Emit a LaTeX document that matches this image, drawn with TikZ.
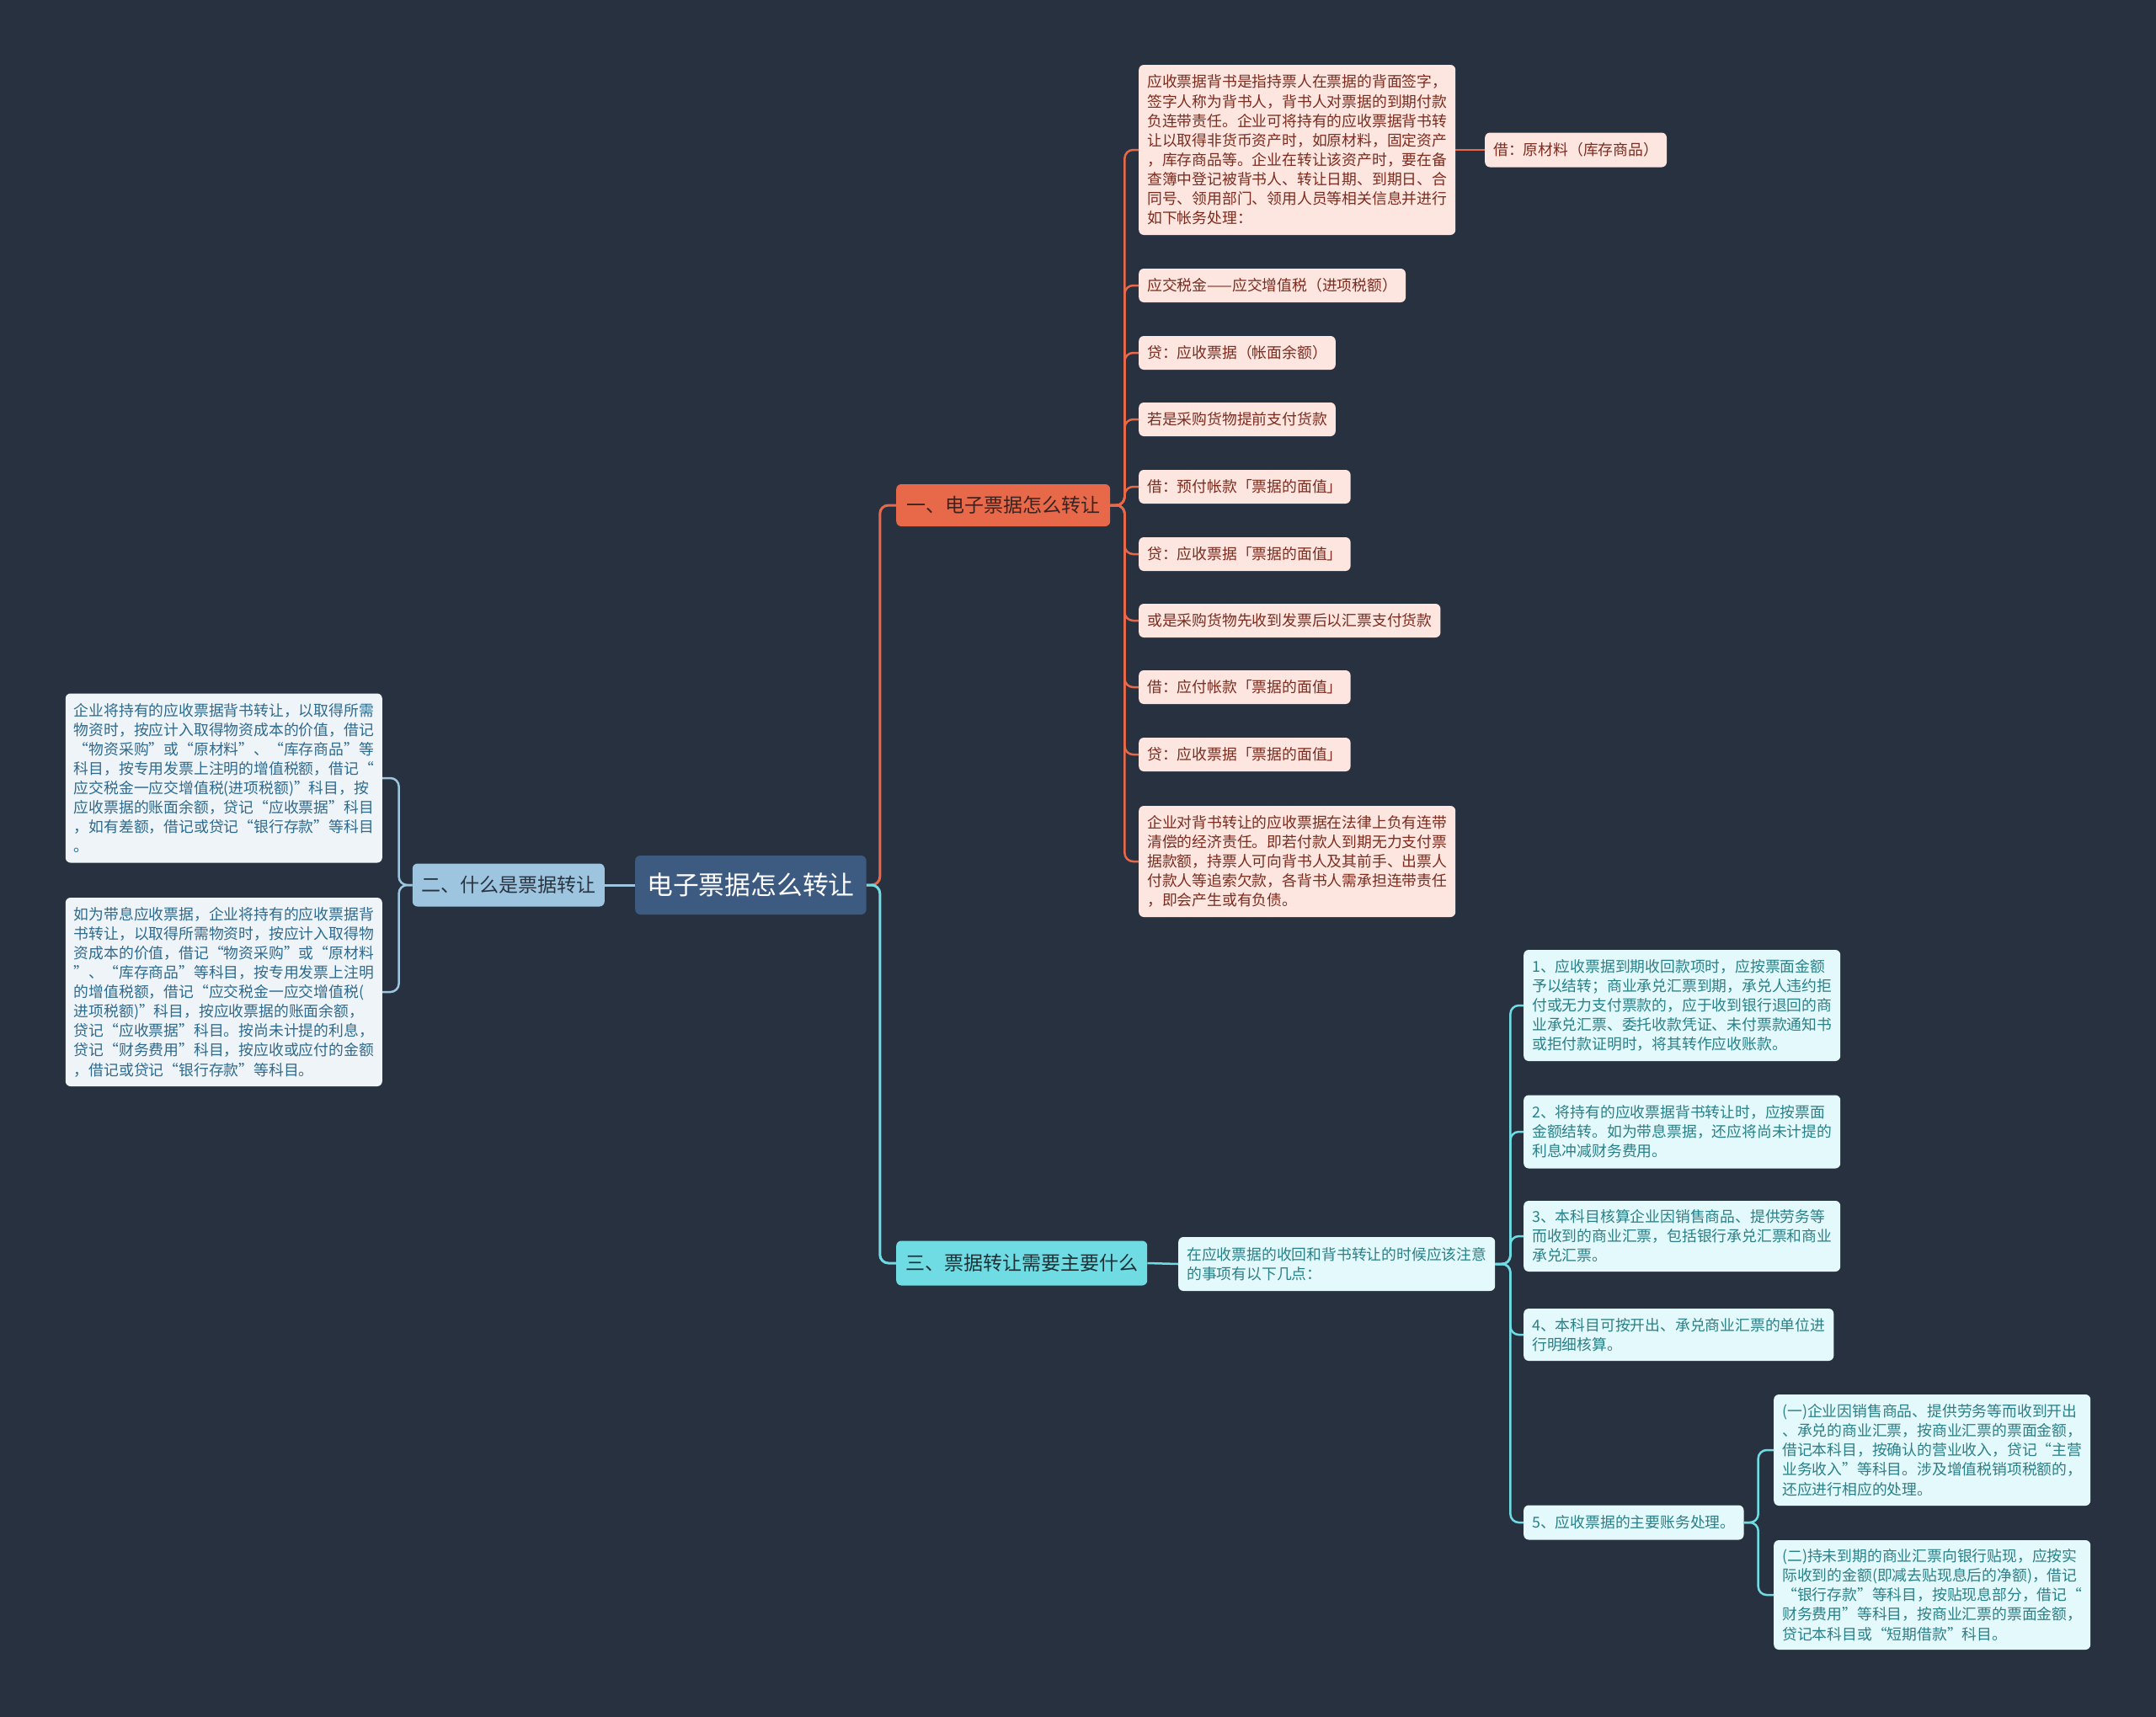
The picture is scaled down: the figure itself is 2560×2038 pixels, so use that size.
\documentclass[tikz,border=0pt]{standalone}
\usepackage{fontspec}
\newfontfamily\cjk{Noto Sans CJK SC}
\definecolor{bg}{HTML}{283140}
\definecolor{rootfill}{HTML}{3D5A80}
\definecolor{ofill}{HTML}{E8694A}
\definecolor{otext}{HTML}{3B2320}
\definecolor{pfill}{HTML}{FDE5E0}
\definecolor{ptext}{HTML}{7B2C1E}
\definecolor{bfill}{HTML}{9EC5DF}
\definecolor{btext}{HTML}{2A3440}
\definecolor{lbfill}{HTML}{EEF4F8}
\definecolor{lbtext}{HTML}{2E6A8E}
\definecolor{cfill}{HTML}{6FDBE3}
\definecolor{ctext}{HTML}{1C3236}
\definecolor{lcfill}{HTML}{E3F9FB}
\definecolor{lctext}{HTML}{2A8088}
\begin{document}
\begin{tikzpicture}[x=1pt,y=-1pt,
  box/.style={rounded corners=6pt, inner ysep=0pt, inner xsep=10pt, align=left, anchor=west},
  leaffont/.style={font=\cjk\fontsize{17.8}{23.1}\selectfont},
  pleaf/.style={box, leaffont, fill=pfill, text=ptext},
  bleaf/.style={box, leaffont, fill=lbfill, text=lbtext},
  cleaf/.style={box, leaffont, fill=lcfill, text=lctext},
  branchfont/.style={font=\cjk\fontsize{23}{28}\selectfont},
  obranch/.style={box, branchfont, fill=ofill, text=otext, inner xsep=12pt, minimum height=50},
  bbranch/.style={box, branchfont, fill=bfill, text=btext, inner xsep=10.5pt, minimum height=51},
  cbranch/.style={box, branchfont, fill=cfill, text=ctext, inner xsep=11pt, minimum height=53},
  rootbox/.style={box, font=\cjk\fontsize{30.8}{36}\selectfont, fill=rootfill, text=white, inner xsep=14pt, minimum height=70},
  oline/.style={draw=ofill, line width=2.5pt, rounded corners=10pt},
  bline/.style={draw=bfill, line width=2.5pt, rounded corners=10pt},
  cline/.style={draw=cfill, line width=2.5pt, rounded corners=10pt},
]
\useasboundingbox (0,0) rectangle (2560,2038);
\fill[bg] (-6,-6) rectangle (2566,2044);

% root and branches
\node[rootbox] (root) at (754,1051) {电子票据怎么转让};
\node[obranch] (b1) at (1064,600) {一、电子票据怎么转让};
\node[bbranch, anchor=east] (b2) at (718,1051) {二、什么是票据转让};
\node[cbranch] (b3) at (1064,1500) {三、票据转让需要主要什么};

% branch 1 leaves
\node[pleaf, minimum height=202] (r1) at (1352,178) {应收票据背书是指持票人在票据的背面签字，\\签字人称为背书人，背书人对票据的到期付款\\负连带责任。企业可将持有的应收票据背书转\\让以取得非货币资产时，如原材料，固定资产\\，库存商品等。企业在转让该资产时，要在备\\查簿中登记被背书人、转让日期、到期日、合\\同号、领用部门、领用人员等相关信息并进行\\如下帐务处理：};
\node[pleaf, minimum height=41] (r1a) at (1763,178) {借：原材料（库存商品）};
\node[pleaf, minimum height=40] (r2) at (1352,339) {应交税金——应交增值税（进项税额）};
\node[pleaf, minimum height=40] (r3) at (1352,419) {贷：应收票据（帐面余额）};
\node[pleaf, minimum height=40] (r4) at (1352,498) {若是采购货物提前支付货款};
\node[pleaf, minimum height=40] (r5) at (1352,578) {借：预付帐款「票据的面值」};
\node[pleaf, minimum height=40] (r6) at (1352,658) {贷：应收票据「票据的面值」};
\node[pleaf, minimum height=40] (r7) at (1352,737) {或是采购货物先收到发票后以汇票支付货款};
\node[pleaf, minimum height=40] (r8) at (1352,816) {借：应付帐款「票据的面值」};
\node[pleaf, minimum height=40] (r9) at (1352,896) {贷：应收票据「票据的面值」};
\node[pleaf, minimum height=132] (r10) at (1352,1023) {企业对背书转让的应收票据在法律上负有连带\\清偿的经济责任。即若付款人到期无力支付票\\据款额，持票人可向背书人及其前手、出票人\\付款人等追索欠款，各背书人需承担连带责任\\，即会产生或有负债。};

% branch 2 leaves
\node[bleaf, anchor=east, minimum height=201] (l1) at (454,924) {企业将持有的应收票据背书转让，以取得所需\\物资时，按应计入取得物资成本的价值，借记\\“物资采购”或“原材料”、“库存商品”等\\科目，按专用发票上注明的增值税额，借记“\\应交税金一应交增值税(进项税额)”科目，按\\应收票据的账面余额，贷记“应收票据”科目\\，如有差额，借记或贷记“银行存款”等科目\\。};
\node[bleaf, anchor=east, minimum height=224] (l2) at (454,1178) {如为带息应收票据，企业将持有的应收票据背\\书转让，以取得所需物资时，按应计入取得物\\资成本的价值，借记“物资采购”或“原材料\\”、“库存商品”等科目，按专用发票上注明\\的增值税额，借记“应交税金一应交增值税(\\进项税额)”科目，按应收票据的账面余额，\\贷记“应收票据”科目。按尚未计提的利息，\\贷记“财务费用”科目，按应收或应付的金额\\，借记或贷记“银行存款”等科目。};

% branch 3
\node[cleaf, minimum height=64] (d) at (1399,1501) {在应收票据的收回和背书转让的时候应该注意\\的事项有以下几点：};
\node[cleaf, minimum height=132] (c1) at (1809,1194) {1、应收票据到期收回款项时，应按票面金额\\予以结转；商业承兑汇票到期，承兑人违约拒\\付或无力支付票款的，应于收到银行退回的商\\业承兑汇票、委托收款凭证、未付票款通知书\\或拒付款证明时，将其转作应收账款。};
\node[cleaf, minimum height=87] (c2) at (1809,1344) {2、将持有的应收票据背书转让时，应按票面\\金额结转。如为带息票据，还应将尚未计提的\\利息冲减财务费用。};
\node[cleaf, minimum height=84] (c3) at (1809,1468) {3、本科目核算企业因销售商品、提供劳务等\\而收到的商业汇票，包括银行承兑汇票和商业\\承兑汇票。};
\node[cleaf, minimum height=62] (c4) at (1809,1585) {4、本科目可按开出、承兑商业汇票的单位进\\行明细核算。};
\node[cleaf, minimum height=41] (c5) at (1809,1808) {5、应收票据的主要账务处理。};
\node[cleaf, minimum height=132] (c5a) at (2106,1722) {(一)企业因销售商品、提供劳务等而收到开出\\、承兑的商业汇票，按商业汇票的票面金额，\\借记本科目，按确认的营业收入，贷记“主营\\业务收入”等科目。涉及增值税销项税额的，\\还应进行相应的处理。};
\node[cleaf, minimum height=130] (c5b) at (2106,1894) {(二)持未到期的商业汇票向银行贴现，应按实\\际收到的金额(即减去贴现息后的净额)，借记\\“银行存款”等科目，按贴现息部分，借记“\\财务费用”等科目，按商业汇票的票面金额，\\贷记本科目或“短期借款”科目。};

% connectors: root to branches
\draw[oline, line width=3pt] (root.east) -- ++(16,0) |- (b1.west);
\draw[cline, line width=3pt] (root.east) -- ++(16,0) |- (b3.west);
\draw[bline, line width=3pt] (root.west) -- (b2.east);

% branch 1 children
\foreach \n in {r1,r2,r3,r4,r5,r6,r7,r8,r9,r10}
  \draw[oline] (b1.east) -- ++(17,0) |- (\n.west);
\draw[oline] (r1.east) -- (r1a.west);

% branch 2 children
\foreach \n in {l1,l2}
  \draw[bline] (b2.west) -- ++(-16,0) |- (\n.east);

% branch 3 children
\draw[cline] (b3.east) -- (d.west);
\foreach \n in {c1,c2,c3,c4,c5}
  \draw[cline] (d.east) -- ++(18,0) |- (\n.west);
\foreach \n in {c5a,c5b}
  \draw[cline] (c5.east) -- ++(17,0) |- (\n.west);
\end{tikzpicture}
\end{document}
